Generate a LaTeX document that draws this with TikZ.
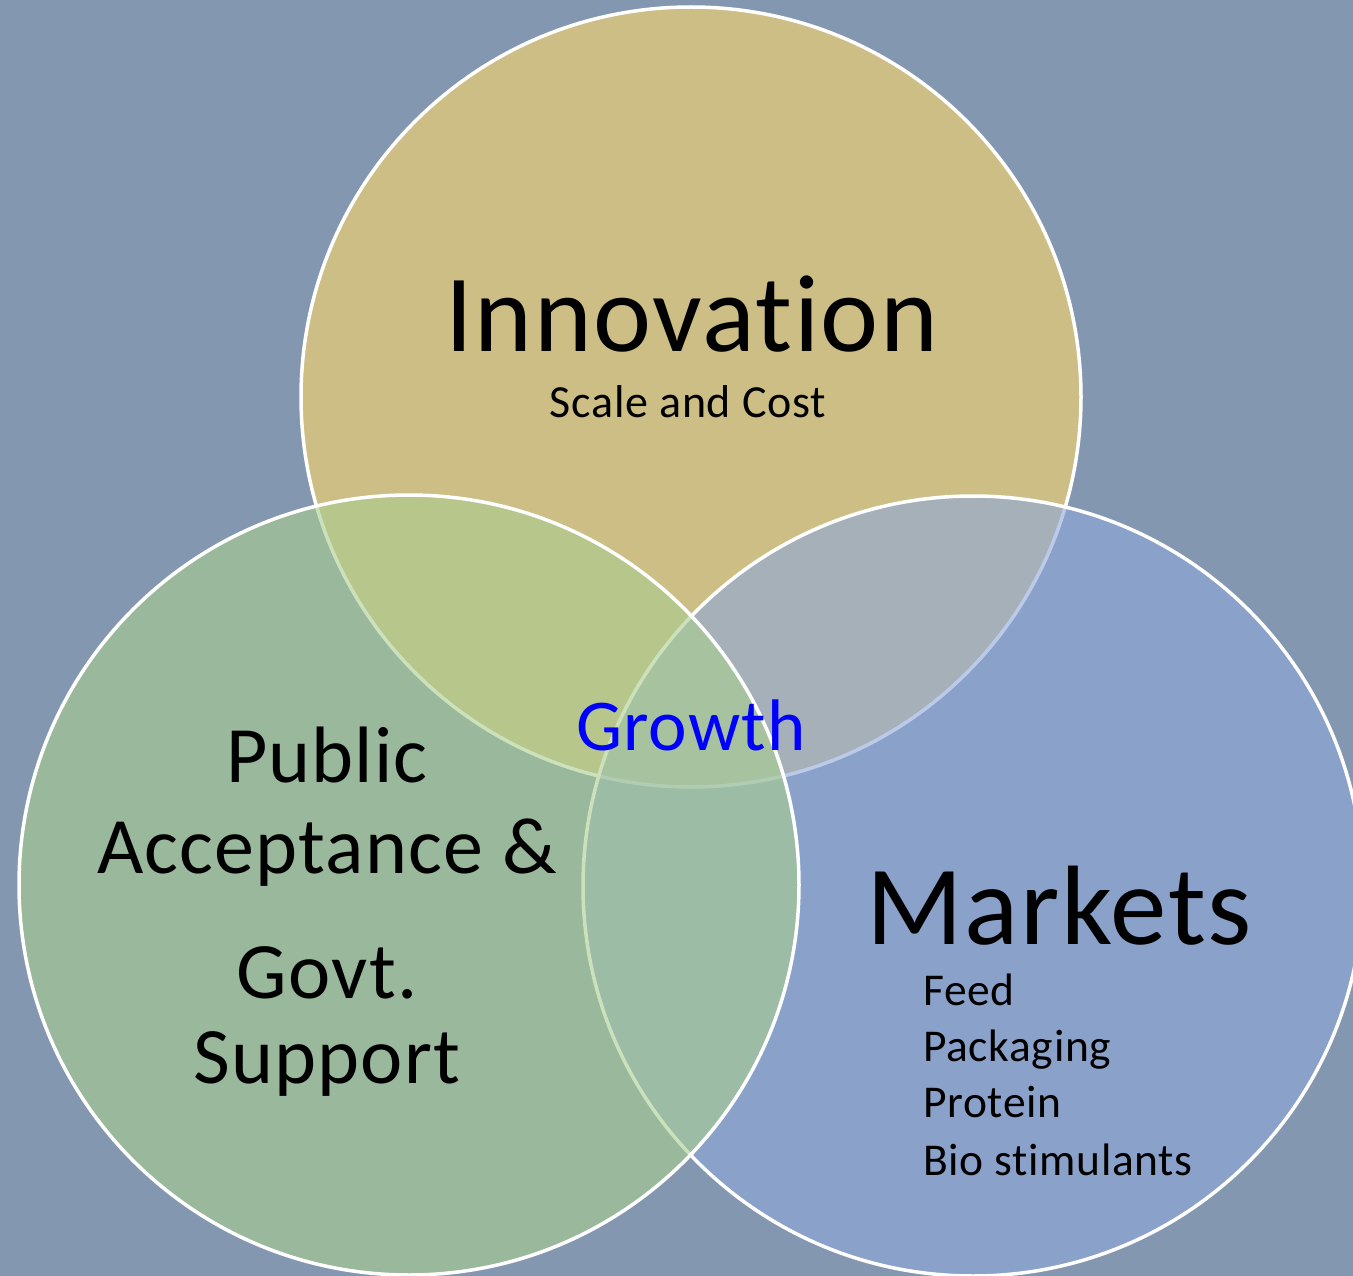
\documentclass[tikz,border=0pt]{standalone}
\usepackage{fontspec}
\setmainfont[Ligatures=NoCommon, LetterSpace=1.5]{Carlito}
\usepackage{xcolor}
\usepackage{tikz}
\usetikzlibrary{positioning}

\definecolor{slate}{HTML}{8497B0}
\definecolor{innogold}{HTML}{CCBE85}
\definecolor{publicgreen}{HTML}{A9CE8F}
\definecolor{marketblue}{HTML}{8EA8DB}
\definecolor{growthblue}{HTML}{0000FF}

\tikzset{
  vennring/.style={draw=white, line width=3.5pt},
  softring/.style={vennring, fill opacity=0.6, draw opacity=1},
  label/.style={inner sep=0pt, anchor=base, text=black},
  listitem/.style={inner sep=0pt, anchor=base west, text=black, font=\fontsize{45.5}{54}\selectfont},
}

\begin{document}
\begin{tikzpicture}[x=1pt, y=-1pt]
          \useasboundingbox (0,0) rectangle (1353,1276);
          \fill[slate] (0,0) rectangle (1353,1276);  % background
          % the three circles, gold one at the bottom
          \draw[vennring, fill=innogold] (691,397) circle[radius=390pt];
          \draw[softring, fill=marketblue] (973,886) circle[radius=390pt];
          \draw[softring, fill=publicgreen] (409,885) circle[radius=390pt];

          \node[label, font=\fontsize{110}{120}\selectfont] (innovation) at (692,352) {Innovation};
          \node[label, font=\fontsize{46}{54}\selectfont] (scalecost) at (688,417) {Scale and Cost};
          \node[label, font=\fontsize{73}{84}\selectfont, text=growthblue] (growth) at (691,750) {Growth};
          \node[label, font=\fontsize{113}{120}\selectfont] (markets) at (1059,944) {Markets};
          % left circle, one node a line
          \node[label, font=\fontsize{80}{88}\selectfont] (public) at (327,782) {Public};
          \node[label, font=\fontsize{80}{88}\selectfont] (acceptance) at (327,873) {Acceptance \&};
          \node[label, font=\fontsize{80}{88}\selectfont] (govt) at (327,998) {Govt.};
          \node[label, font=\fontsize{80}{88}\selectfont] (support) at (327,1083) {Support};
          % market list
          \node[listitem] (feed) at (923,1005) {Feed};
          \node[listitem] (packaging) at (923,1061) {Packaging};
          \node[listitem] (protein) at (923,1117) {Protein};
          \node[listitem] (biostim) at (923,1175) {Bio stimulants};
        \end{tikzpicture}
\end{document}
